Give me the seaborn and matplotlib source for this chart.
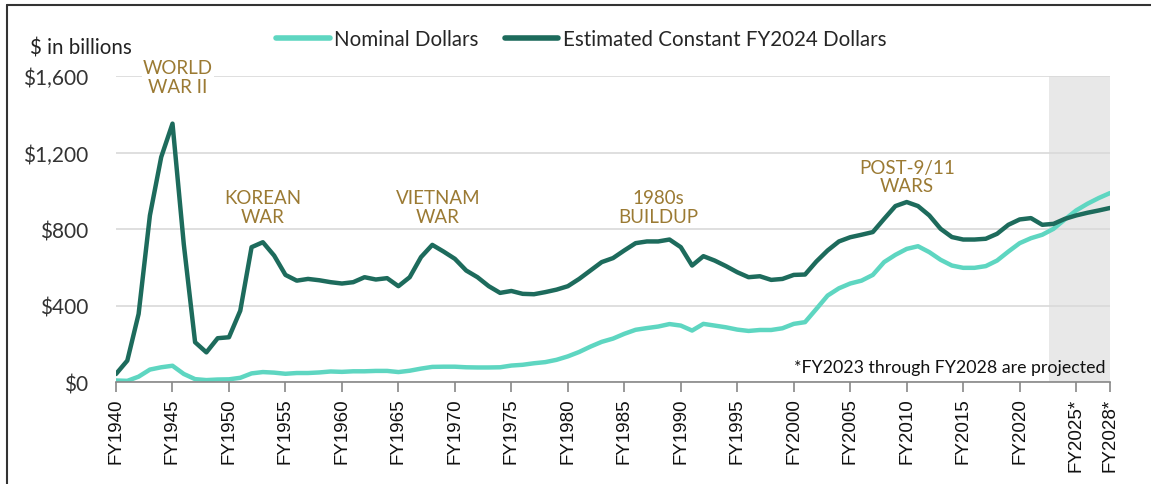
import pandas as pd
import matplotlib.pyplot as plt
import matplotlib.lines as mlines
import seaborn as sns
import numpy as np

# --- dados ($ bilhões) ---
anos = list(range(1940, 2029))

nominal = [
    8, 6, 28, 65, 77, 85, 42, 15, 10, 13,          # 1940-1949
    14, 22, 45, 52, 49, 43, 47, 47, 50, 55,        # 1950-1959
    53, 56, 56, 58, 58, 52, 59, 70, 79, 80,        # 1960-1969
    80, 77, 76, 76, 77, 86, 90, 98, 104, 116,      # 1970-1979
    134, 157, 185, 210, 227, 252, 273, 282, 290, 303,  # 1980-1989
    295, 269, 304, 295, 286, 274, 267, 272, 272, 281,  # 1990-1999
    304, 313, 382, 452, 490, 515, 530, 560, 627, 665,  # 2000-2009
    696, 710, 679, 639, 609, 597, 597, 606, 635, 682,  # 2010-2019
    726, 752, 770, 801, 850, 897, 932, 962, 988,       # 2020-2028
]

constante = [
    42, 112, 356, 871, 1176, 1351, 720, 208, 155, 229,   # 1940-1949
    234, 373, 705, 731, 661, 560, 530, 539, 532, 522,    # 1950-1959
    515, 522, 548, 536, 543, 501, 548, 653, 717, 682,    # 1960-1969
    644, 583, 548, 501, 466, 476, 461, 459, 470, 483,    # 1970-1979
    501, 539, 583, 627, 648, 688, 726, 735, 735, 745,    # 1980-1989
    705, 609, 658, 635, 606, 574, 548, 553, 534, 539,    # 1990-1999
    560, 562, 630, 688, 735, 757, 770, 784, 853, 920,    # 2000-2009
    941, 920, 871, 801, 758, 745, 745, 749, 775, 822,    # 2010-2019
    850, 857, 822, 827, 853, 871, 885, 897, 910,         # 2020-2028
]

ticks_x = [1940, 1945, 1950, 1955, 1960, 1965, 1970, 1975, 1980, 1985,
           1990, 1995, 2000, 2005, 2010, 2015, 2020, 2025, 2028]
rotulos_x = ["FY%d" % a for a in ticks_x[:-2]] + ["FY2025*", "FY2028*"]
ticks_y = [0, 400, 800, 1200, 1600]
rotulos_y = ["$0", "$400", "$800", "$1,200", "$1,600"]

eventos = ["WORLD\nWAR II", "KOREAN\nWAR", "VIETNAM\nWAR", "1980s\nBUILDUP", "POST-9/11\nWARS"]
eventos_x = [1945.5, 1953, 1968.5, 1988, 2010]
eventos_y = [1595, 915, 915, 915, 1075]

NOMINAL = "Nominal Dollars"
CONSTANTE = "Estimated Constant FY2024 Dollars"
COR_NOM = "#5ed6c1"
COR_CONST = "#1d6b5c"
COR_EVENTO = "#9b7a33"

df = pd.DataFrame({
    "ano": anos * 2,
    "valor": nominal + constante,
    "serie": [NOMINAL] * len(anos) + [CONSTANTE] * len(anos),
})

sns.set_theme(style="white")
plt.rcParams["font.family"] = ["Lato", "DejaVu Sans"]

fig = plt.figure(figsize=(11.51, 4.85), dpi=100)
ax = fig.add_axes([0.1008, 0.2103, 0.8636, 0.6309])

# faixa projetada
ax.axvspan(2022.6, 2028, color="#e8e8e8", zorder=0, lw=0)

sns.lineplot(data=df, x="ano", y="valor", hue="serie",
             palette={NOMINAL: COR_NOM, CONSTANTE: COR_CONST},
             hue_order=[NOMINAL, CONSTANTE], linewidth=3.2, ax=ax, legend=False)

ax.set_xlim(1940, 2028)
ax.set_ylim(0, 1600)
ax.set_yticks(ticks_y)
ax.set_yticklabels(rotulos_y, fontsize=15, color="#333333")
ax.set_xticks(ticks_x)
ax.set_xticklabels(rotulos_x, rotation=90, fontsize=13.5, family="Liberation Sans", color="#111111")
ax.set_xlabel("")
ax.set_ylabel("")
ax.grid(axis="y", color="#d9d9d9", lw=1.2, zorder=0)
ax.set_axisbelow(True)
for s in ["left", "right", "top"]:
    ax.spines[s].set_visible(False)
ax.spines["bottom"].set_color("#888888")
ax.spines["bottom"].set_linewidth(1.2)
ax.tick_params(axis="x", bottom=True, length=7, width=1.2, color="#888888", pad=4)
ax.tick_params(axis="y", left=False, pad=14)

for txt, x, y in zip(eventos, eventos_x, eventos_y):
    ax.text(x, y, txt, ha="center", va="center", fontsize=13.5, color=COR_EVENTO,
            linespacing=1.1,
            bbox=dict(fc="white", ec="none", pad=1) if txt.startswith("WORLD") else None)

ax.text(2027.6, 78, "*FY2023 through FY2028 are projected", ha="right", va="center",
        fontsize=12.8, color="#111111")

# legenda
h1 = mlines.Line2D([], [], color=COR_NOM, lw=4)
h2 = mlines.Line2D([], [], color=COR_CONST, lw=4)
fig.legend([h1, h2], [NOMINAL, CONSTANTE], loc="center", bbox_to_anchor=(0.505, 0.918),
           ncol=2, frameon=False, fontsize=14.8, handlelength=2.6, handletextpad=0.2,
           columnspacing=1.3)

fig.text(0.026, 0.9, "$ in billions", fontsize=14.8, color="#222222", va="center")

# moldura
fig.add_artist(mlines.Line2D([0.0065, 0.0065], [0, 0.988], color="#333333", lw=1.5))
fig.add_artist(mlines.Line2D([0.0065, 1], [0.988, 0.988], color="#333333", lw=1.5))

fig.savefig("out.png", dpi=100)
